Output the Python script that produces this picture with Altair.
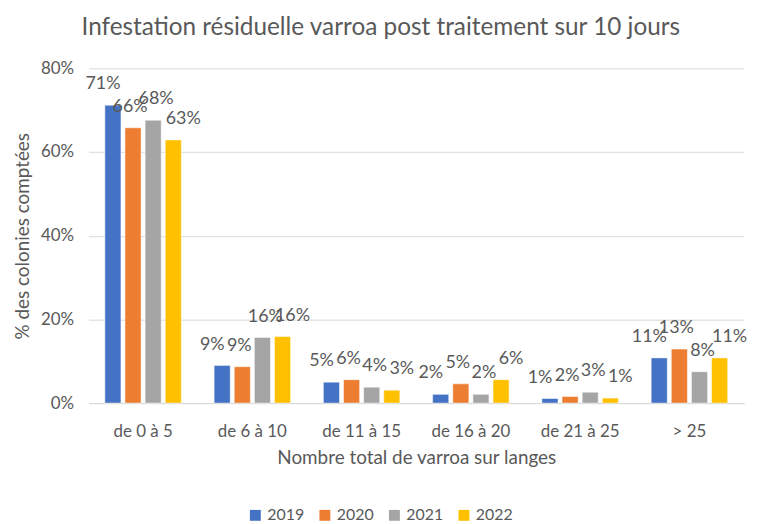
import altair as alt
import pandas as pd

categories = ["de 0 à 5", "de 6 à 10", "de 11 à 15", "de 16 à 20", "de 21 à 25", "> 25"]
years = ["2019", "2020", "2021", "2022"]
v2019 = [71.2, 9.0, 5.0, 2.1, 1.1, 10.8]
v2020 = [65.8, 8.7, 5.6, 4.6, 1.6, 12.9]
v2021 = [67.6, 15.7, 3.8, 2.1, 2.6, 7.5]
v2022 = [62.9, 15.9, 3.1, 5.6, 1.2, 10.8]
colors = ["#4472C4", "#ED7D31", "#A5A5A5", "#FFC000"]

rows = []
for yr, vals in zip(years, [v2019, v2020, v2021, v2022]):
    for c, v in zip(categories, vals):
        rows.append({"cat": c, "year": yr, "value": v / 100})
df = pd.DataFrame(rows)

FONT = "Lato"
GREY = "#595959"

x = alt.X("cat:N", sort=categories, title="Nombre total de varroa sur langes",
          scale=alt.Scale(paddingInner=0.3, paddingOuter=0.15),
          axis=alt.Axis(labelAngle=0, ticks=False, domainColor="#D9D9D9",
                        labelFontSize=17, labelColor=GREY, labelPadding=21,
                        titleFontSize=19, titleColor=GREY, titlePadding=9,
                        titleFontWeight="normal"))
xo = alt.XOffset("year:N", sort=years, scale=alt.Scale(paddingInner=0.2, paddingOuter=0))
y = alt.Y("value:Q", title="% des colonies comptées",
          scale=alt.Scale(domain=[0, 0.8]),
          axis=alt.Axis(values=[0, 0.2, 0.4, 0.6, 0.8], format=".0%", domain=False,
                        ticks=False, gridColor="#D9D9D9", labelFontSize=17,
                        labelColor=GREY, labelPadding=15, titleFontSize=19,
                        titleColor=GREY, titleFontWeight="normal", titlePadding=8))
color = alt.Color("year:N", sort=years, scale=alt.Scale(domain=years, range=colors),
                  legend=alt.Legend(title=None, orient="none", direction="horizontal",
                                    legendX=160, legendY=442, symbolType="square",
                                    symbolSize=120, labelFontSize=16, labelColor=GREY,
                                    columnPadding=12, symbolStrokeWidth=0))

base = alt.Chart(df).encode(x=x, xOffset=xo, y=y)
bars = base.mark_bar(stroke="white", strokeWidth=0.5).encode(color=color)

label_layers = []
for yr, shift in zip(years, [-10, -3, 3, 10]):
    label_layers.append(
        base.transform_filter(alt.datum.year == yr)
        .mark_text(dy=-12, dx=shift, baseline="bottom", fontSize=18, color=GREY, font=FONT)
        .encode(text=alt.Text("value:Q", format=".0%"))
    )

chart = alt.layer(bars, *label_layers).properties(
    width=660, height=337,
    title=alt.TitleParams("Infestation résiduelle varroa post traitement sur 10 jours",
                          fontSize=24.5, font=FONT, color=GREY, fontWeight="normal",
                          anchor="start", frame="group", offset=19, dx=-7),
).configure(font=FONT).configure_view(stroke=None).configure_axis(labelFont=FONT, titleFont=FONT)

chart.save("out.html", embed_options={"renderer": "svg", "actions": False})
